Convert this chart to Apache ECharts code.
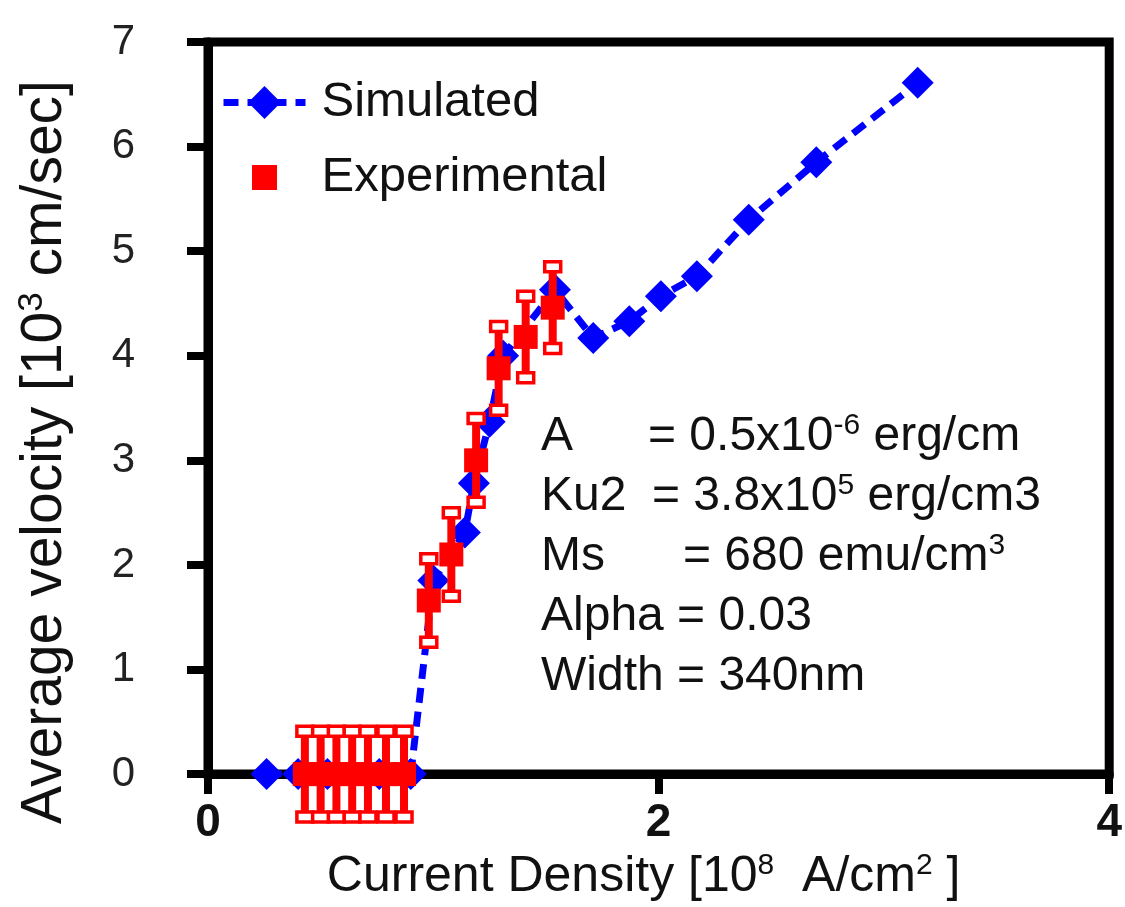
<!DOCTYPE html>
<html><head><meta charset="utf-8">
<script src="https://cdn.jsdelivr.net/npm/echarts@6/dist/echarts.min.js"></script>
<style>html,body{margin:0;padding:0;background:#fff}#c{width:1125px;height:907px}</style>
</head><body><div id="c"></div>
<script>
// ---- data ----
const simX = [0.26, 0.40, 0.53, 0.76, 0.90, 1.00, 1.14, 1.18, 1.25, 1.31, 1.54, 1.71, 1.87, 2.01, 2.17, 2.40, 2.70, 3.15];
const simY = [0, 0, 0, 0, 0, 1.85, 2.31, 2.78, 3.37, 4.00, 4.63, 4.17, 4.33, 4.57, 4.76, 5.30, 5.85, 6.61];
const expX = [0.43, 0.50, 0.57, 0.64, 0.71, 0.79, 0.87, 0.98, 1.08, 1.19, 1.29, 1.41, 1.53];
const expY = [0, 0, 0, 0, 0, 0, 0, 1.66, 2.10, 3.00, 3.88, 4.18, 4.46];
const expErr = [0.41, 0.41, 0.41, 0.41, 0.41, 0.41, 0.41, 0.40, 0.40, 0.40, 0.40, 0.39, 0.39];
const seriesNames = ['Simulated', 'Experimental'];
const xTitle = 'Current Density [10{sup|8}  A/cm{sup|2} ]';
const yTitle = 'Average velocity [10{sup|3} cm/sec]';
const noteLines = [
  ['A', '= 0.5x10{sup|-6} erg/cm'],
  ['Ku2', '= 3.8x10{sup|5} erg/cm3'],
  ['Ms', '= 680 emu/cm{sup|3}'],
  ['Alpha = 0.03', ''],
  ['Width = 340nm', '']
];

const FONT = 'Liberation Sans, Arial, sans-serif';
const BLUE = '#0000FF', RED = '#FF0000';

const simData = simX.map((x, i) => [x, simY[i]]);
const expData = expX.map((x, i) => [x, expY[i]]);
const errData = expX.map((x, i) => [x, expY[i], expErr[i]]);

const supRich = { sup: { fontSize: 30, fontFamily: FONT, color: '#111', padding: [0, 0, 22, 0] } };

const noteX = 541, noteValX = [648, 652, 683, 0, 0], noteY0 = 437, noteDY = 60;
const graphics = [{
  type: 'text', x: 45, y: 452, rotation: Math.PI / 2,
  style: { text: yTitle, fontSize: 57, fontFamily: FONT, fill: '#111', align: 'center', verticalAlign: 'middle',
    rich: { sup: { fontSize: 35, fontFamily: FONT, fill: '#111', padding: [0, 0, 26, 0] } } }
}];
noteLines.forEach((ln, i) => {
  graphics.push({ type: 'text', x: noteX, y: noteY0 + i * noteDY,
    style: { text: ln[0], fontSize: 48, fontFamily: FONT, fill: '#111', verticalAlign: 'middle' } });
  if (ln[1]) graphics.push({ type: 'text', x: noteValX[i], y: noteY0 + i * noteDY,
    style: { text: ln[1], fontSize: 48, fontFamily: FONT, fill: '#111', verticalAlign: 'middle',
      rich: { sup: { fontSize: 30, fontFamily: FONT, fill: '#111', padding: [0, 0, 22, 0] } } } });
});

// legend square icon: 25px square inside a 41px box (keeps aspect)
const squareIcon = 'path://M0,0L0,0M41,41L41,41M8,8H33V33H8Z';

const chart = echarts.init(document.getElementById('c'), null, { renderer: 'canvas' });
chart.setOption({
  animation: false,
  backgroundColor: '#fff',
  grid: { left: 208, right: 15, top: 42, bottom: 126, show: true, borderColor: '#000', borderWidth: 9 },
  legend: {
    data: [{ name: seriesNames[0] }, { name: seriesNames[1], icon: squareIcon, itemStyle: { color: RED, opacity: 1 } }],
    orient: 'vertical', left: 220, top: 78, padding: 0,
    itemWidth: 82, itemHeight: 41, itemGap: 26,
    lineStyle: { width: 7 },
    textStyle: { fontSize: 49, fontFamily: FONT, color: '#111', padding: [0, 0, 0, 11] }
  },
  xAxis: {
    type: 'value', min: 0, max: 4, interval: 2,
    axisLine: { onZero: false, lineStyle: { color: '#000', width: 9 } },
    axisTick: { show: true, length: 20, lineStyle: { color: '#000', width: 8 } },
    axisLabel: { fontSize: 46, fontWeight: 'bold', fontFamily: FONT, color: '#111', margin: 26 },
    splitLine: { show: false },
    name: xTitle, nameLocation: 'middle', nameGap: 66,
    nameTextStyle: { fontSize: 50, fontFamily: FONT, color: '#111', padding: [0, 30, 0, 0], rich: supRich }
  },
  yAxis: {
    type: 'value', min: 0, max: 7, interval: 1,
    axisLine: { onZero: false, lineStyle: { color: '#000', width: 9 } },
    axisTick: { show: true, length: 21, lineStyle: { color: '#000', width: 8 } },
    axisLabel: { fontSize: 42, fontFamily: FONT, color: '#222', margin: 73, padding: [0, 0, 16, 0] },
    splitLine: { show: false }
  },
  graphic: graphics,
  series: [
    {
      name: seriesNames[0], type: 'line', data: simData, z: 3,
      symbol: 'diamond', symbolSize: 32,
      lineStyle: { color: BLUE, width: 7, type: [15, 9] },
      itemStyle: { color: BLUE, opacity: 1 }
    },
    {
      name: 'errbar', type: 'custom', data: errData, z: 4, clip: false,
      encode: { x: 0, y: 1 },
      renderItem: function (params, api) {
        const x = api.value(0), y = api.value(1), e = api.value(2);
        const t = api.coord([x, y + e]), b = api.coord([x, y - e]);
        const cw = 16, ch = 10;
        return { type: 'group', children: [
          { type: 'line', shape: { x1: t[0], y1: t[1], x2: b[0], y2: b[1] }, style: { stroke: RED, lineWidth: 8 } },
          { type: 'rect', shape: { x: t[0] - cw / 2, y: t[1] - ch / 2, width: cw, height: ch }, style: { fill: '#fff', stroke: RED, lineWidth: 3.5 } },
          { type: 'rect', shape: { x: b[0] - cw / 2, y: b[1] - ch / 2, width: cw, height: ch }, style: { fill: '#fff', stroke: RED, lineWidth: 3.5 } }
        ] };
      }
    },
    {
      name: seriesNames[1], type: 'scatter', data: expData, z: 5,
      symbol: 'rect', symbolSize: 24,
      itemStyle: { color: RED, opacity: 1 }
    }
  ]
});
</script></body></html>
